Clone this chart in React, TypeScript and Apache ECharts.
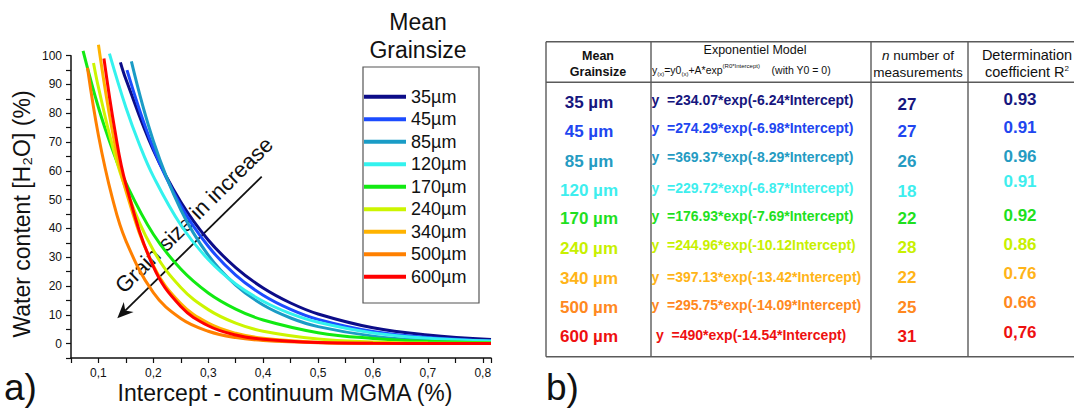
import React, { useEffect, useRef } from 'react';
import * as echarts from 'echarts';

// ---------- DATA ----------
const grainSizes = ['35µm', '45µm', '85µm', '120µm', '170µm', '240µm', '340µm', '500µm', '600µm'];

const curve35 = [[0.14, 97.7], [0.15, 91.8], [0.2, 67.2], [0.25, 49.2], [0.3, 36.0], [0.35, 26.4], [0.4, 19.3], [0.45, 14.1], [0.5, 10.3], [0.6, 5.5], [0.7, 3.0], [0.815, 1.4]];
const curve45 = [[0.152, 95.0], [0.2, 67.9], [0.25, 47.9], [0.3, 33.8], [0.35, 23.8], [0.4, 16.8], [0.45, 11.9], [0.5, 8.4], [0.6, 4.2], [0.7, 2.1], [0.815, 0.9]];
const curve85 = [[0.16, 98.0], [0.2, 70.4], [0.25, 46.5], [0.3, 30.7], [0.35, 20.3], [0.4, 13.4], [0.45, 8.9], [0.5, 5.9], [0.6, 2.6], [0.7, 1.1], [0.815, 0.4]];
const curve120 = [[0.12, 100.7], [0.15, 82.0], [0.175, 69.0], [0.2, 58.1], [0.25, 41.2], [0.3, 29.2], [0.35, 20.7], [0.4, 14.7], [0.45, 10.4], [0.5, 7.4], [0.6, 3.7], [0.7, 1.9], [0.815, 0.9]];
const curve170 = [[0.072, 101.7], [0.1, 82.0], [0.125, 67.7], [0.15, 55.8], [0.2, 38.0], [0.25, 25.9], [0.3, 17.6], [0.35, 12.0], [0.4, 8.2], [0.5, 3.8], [0.6, 1.8], [0.7, 0.8], [0.815, 0.3]];
const curve240 = [[0.091, 97.5], [0.1, 89.0], [0.125, 69.1], [0.15, 53.7], [0.2, 32.4], [0.25, 19.5], [0.3, 11.8], [0.35, 7.1], [0.4, 4.3], [0.5, 1.6], [0.6, 0.6], [0.7, 0.2], [0.815, 0.1]];
const curve340 = [[0.1, 103.8], [0.125, 74.2], [0.15, 53.1], [0.2, 27.1], [0.25, 13.9], [0.3, 7.1], [0.35, 3.6], [0.4, 1.9], [0.5, 0.5], [0.6, 0.1], [0.815, 0.0]];
const curve500 = [[0.08, 95.8], [0.1, 72.3], [0.125, 50.8], [0.15, 35.7], [0.2, 17.7], [0.25, 8.7], [0.3, 4.3], [0.35, 2.1], [0.4, 1.1], [0.5, 0.3], [0.6, 0.1], [0.815, 0.0]];
const curve600 = [[0.11, 99.0], [0.13, 74.0], [0.15, 55.3], [0.2, 26.7], [0.25, 12.9], [0.3, 6.2], [0.35, 3.0], [0.4, 1.5], [0.5, 0.35], [0.6, 0.1], [0.815, 0.0]];
const curves = [curve35, curve45, curve85, curve120, curve170, curve240, curve340, curve500, curve600];

const tableSizes = ['35 µm', '45 µm', '85 µm', '120 µm', '170 µm', '240 µm', '340 µm', '500 µm', '600 µm'];
const equations = [
  'y  =234.07*exp(-6.24*Intercept)',
  'y  =274.29*exp(-6.98*Intercept)',
  'y  =369.37*exp(-8.29*Intercept)',
  'y  =229.72*exp(-6.87*Intercept)',
  'y  =176.93*exp(-7.69*Intercept)',
  'y  =244.96*exp(-10.12Intercept)',
  'y  =397.13*exp(-13.42*Intercept)',
  'y  =295.75*exp(-14.09*Intercept)',
  'y  =490*exp(-14.54*Intercept)',
];
const measurementCounts = ['27', '27', '26', '18', '22', '28', '22', '25', '31'];
const r2Values = ['0.93', '0.91', '0.96', '0.91', '0.92', '0.86', '0.76', '0.66', '0,76'];

// ---------- STYLE ----------
const FONT = '"Liberation Sans", Arial, Helvetica, sans-serif';
const colors = ['#0c0c88', '#1c4cff', '#1a9cc6', '#33f2ee', '#12ea12', '#ccf500', '#ffb300', '#ff8000', '#ff0000'];
const textColors = ['#16167e', '#2146f0', '#259bc2', '#3eeeee', '#1fe01f', '#c8f000', '#ffb418', '#ff8820', '#ee1010'];

const rowLabelY = [102.3, 131, 161, 190.3, 218.3, 248.3, 278.3, 307.3, 336.7];
const eqY = [100, 128.3, 156.7, 188.3, 215.7, 245, 276.7, 305, 335];
const eqX = [651.5, 651.5, 651.5, 651.5, 651.5, 651.5, 651.5, 651.5, 656];
const nY = [104.3, 131.7, 161.7, 191, 218.3, 247.3, 277.3, 307.3, 336.7];
const r2Y = [99, 127.7, 156.7, 181.7, 215, 244, 273.3, 302.7, 332.7];

function txt(text: string, x: number, y: number, size: number, opts: any = {}) {
  return {
    type: 'text',
    x,
    y,
    rotation: opts.rotation || 0,
    style: {
      text,
      fontSize: size,
      fontWeight: opts.bold ? 'bold' : 'normal',
      fontFamily: FONT,
      fill: opts.color || '#111',
      align: opts.align || 'center',
      verticalAlign: 'middle',
      textAlign: opts.align || 'center',
      textVerticalAlign: 'middle',
      rich: opts.rich,
    },
  };
}

function hline(x1: number, y1: number, x2: number, y2: number, color = '#5a5a5a', w = 1.4) {
  return { type: 'line', shape: { x1, y1, x2, y2 }, style: { stroke: color, lineWidth: w } };
}

export default function App() {
  const ref = useRef<HTMLDivElement>(null);

  useEffect(() => {
    if (!ref.current) return;
    const chart = echarts.init(ref.current, undefined, { renderer: 'svg' });

    const graphic: any[] = [];
    // axis titles
    graphic.push(txt('Water content [H₂O] (%)', 22, 214, 23, { rotation: Math.PI / 2 }));
    graphic.push(txt('Intercept - continuum MGMA (%)', 285, 393, 23));
    graphic.push(txt('a)', 4, 387, 37, { align: 'left' }));
    graphic.push(txt('b)', 546, 387, 37, { align: 'left' }));
    // legend title + box
    graphic.push(txt('Mean', 418, 22, 23));
    graphic.push(txt('Grainsize', 418, 50, 23));
    graphic.push({ type: 'rect', shape: { x: 363, y: 67, width: 116, height: 236 }, style: { fill: 'none', stroke: '#555', lineWidth: 1.2 } });
    // arrow
    graphic.push({ type: 'line', shape: { x1: 261.7, y1: 176.7, x2: 125.2, y2: 310.6 }, style: { stroke: '#111', lineWidth: 1.8 } });
    graphic.push({ type: 'polygon', shape: { points: [[117.3, 318.3], [123.8, 302.1], [125.2, 310.6], [133.6, 312.1]] }, style: { fill: '#111' } });
    graphic.push(txt('Grain size in increase', 194, 215, 22, { rotation: 0.778 }));

    // table lines
    const T = 41.7, H = 82.3, B = 356.7, L = 546, R = 1074;
    graphic.push(hline(L, T, R, T));
    graphic.push(hline(L, H, R, H));
    graphic.push(hline(L, B, R, B));
    graphic.push(hline(L, T, L, B));
    graphic.push(hline(651, T, 651, B));
    graphic.push(hline(871, T, 871, 359.5));
    graphic.push(hline(968, T, 968, B));

    // table header
    graphic.push(txt('Mean', 598, 56, 12.5, { bold: true }));
    graphic.push(txt('Grainsize', 598, 71.5, 12.5, { bold: true }));
    graphic.push(txt('Exponentiel Model', 755, 50, 12.5));
    graphic.push(txt('{n|y}{s|(x)}{n|=y0}{s|(x)}{n|+A*exp}{p|(R0*Intercept)}{n|    (with Y0 = 0)}', 652, 70, 10.5, {
      align: 'left',
      rich: {
        n: { fontSize: 10.5, fontFamily: FONT, fill: '#111', color: '#111', lineHeight: 14 },
        s: { fontSize: 6, fontFamily: FONT, fill: '#111', color: '#111', verticalAlign: 'bottom', lineHeight: 14 },
        p: { fontSize: 6, fontFamily: FONT, fill: '#111', color: '#111', verticalAlign: 'top', lineHeight: 14 },
      },
    }));
    graphic.push(txt('{i|n}{r| number of}', 918, 55, 13.5, {
      rich: {
        i: { fontSize: 13.5, fontStyle: 'italic', fontFamily: FONT, fill: '#111', color: '#111' },
        r: { fontSize: 13.5, fontFamily: FONT, fill: '#111', color: '#111' },
      },
    }));
    graphic.push(txt('measurements', 918, 72, 13.5));
    graphic.push(txt('Determination', 1027, 55, 14.5));
    graphic.push(txt('{r|coefficient R}{p|2}', 1027, 72, 14.5, {
      rich: {
        r: { fontSize: 14.5, fontFamily: FONT, fill: '#111', color: '#111', lineHeight: 16 },
        p: { fontSize: 8, fontFamily: FONT, fill: '#111', color: '#111', verticalAlign: 'top', lineHeight: 16 },
      },
    }));

    // table rows
    for (let i = 0; i < tableSizes.length; i++) {
      const c = textColors[i];
      graphic.push(txt(tableSizes[i], 589, rowLabelY[i], 17, { bold: true, color: c }));
      graphic.push(txt(equations[i], eqX[i], eqY[i], 14, { bold: true, color: c, align: 'left' }));
      graphic.push(txt(measurementCounts[i], 907, nY[i], 17, { bold: true, color: c }));
      graphic.push(txt(r2Values[i], 1020, r2Y[i], 17, { bold: true, color: c }));
    }

    const option: any = {
      animation: false,
      textStyle: { fontFamily: FONT },
      grid: { left: 71, top: 55.7, width: 420, height: 302.3, containLabel: false },
      xAxis: {
        type: 'value',
        min: 0.05,
        max: 0.815,
        interval: 0.05,
        axisLine: { show: true, onZero: false, lineStyle: { color: '#111', width: 1.5 } },
        axisTick: { show: true, inside: false, length: 5, lineStyle: { color: '#111', width: 1.2 } },
        axisLabel: {
          margin: 9,
          fontSize: 12,
          color: '#111',
          fontFamily: FONT,
          formatter: (v: number) => {
            const k = Math.round(v * 100);
            return k % 10 === 0 ? '0,' + k / 10 : '';
          },
        },
        splitLine: { show: false },
      },
      yAxis: {
        type: 'value',
        min: -5,
        max: 100,
        interval: 5,
        axisLine: { show: true, onZero: false, lineStyle: { color: '#111', width: 1.5 } },
        axisTick: { show: true, inside: false, length: 5, lineStyle: { color: '#111', width: 1.2 } },
        axisLabel: {
          margin: 9,
          fontSize: 12,
          color: '#111',
          fontFamily: FONT,
          formatter: (v: number) => {
            const k = Math.round(v);
            return k % 10 === 0 ? String(k) : '';
          },
        },
        splitLine: { show: false },
      },
      legend: {
        orient: 'vertical',
        left: 364,
        top: 87.7,
        padding: 0,
        itemWidth: 42,
        itemHeight: 4,
        itemGap: 4.5,
        icon: 'rect',
        data: grainSizes,
        textStyle: { fontSize: 18, lineHeight: 18, color: '#111', fontFamily: FONT },
      },
      series: grainSizes.map((name, i) => ({
        name,
        type: 'line',
        data: curves[i],
        symbol: 'none',
        showSymbol: false,
        smooth: 0.4,
        clip: false,
        color: colors[i],
        lineStyle: { width: 3, color: colors[i] },
        z: 2 + i,
      })),
      graphic,
    };

    chart.setOption(option);
    return () => chart.dispose();
  }, []);

  return (
    <div
      ref={ref}
      style={{ position: 'fixed', left: 0, top: 0, width: 1074, height: 410, background: '#fff' }}
    />
  );
}
